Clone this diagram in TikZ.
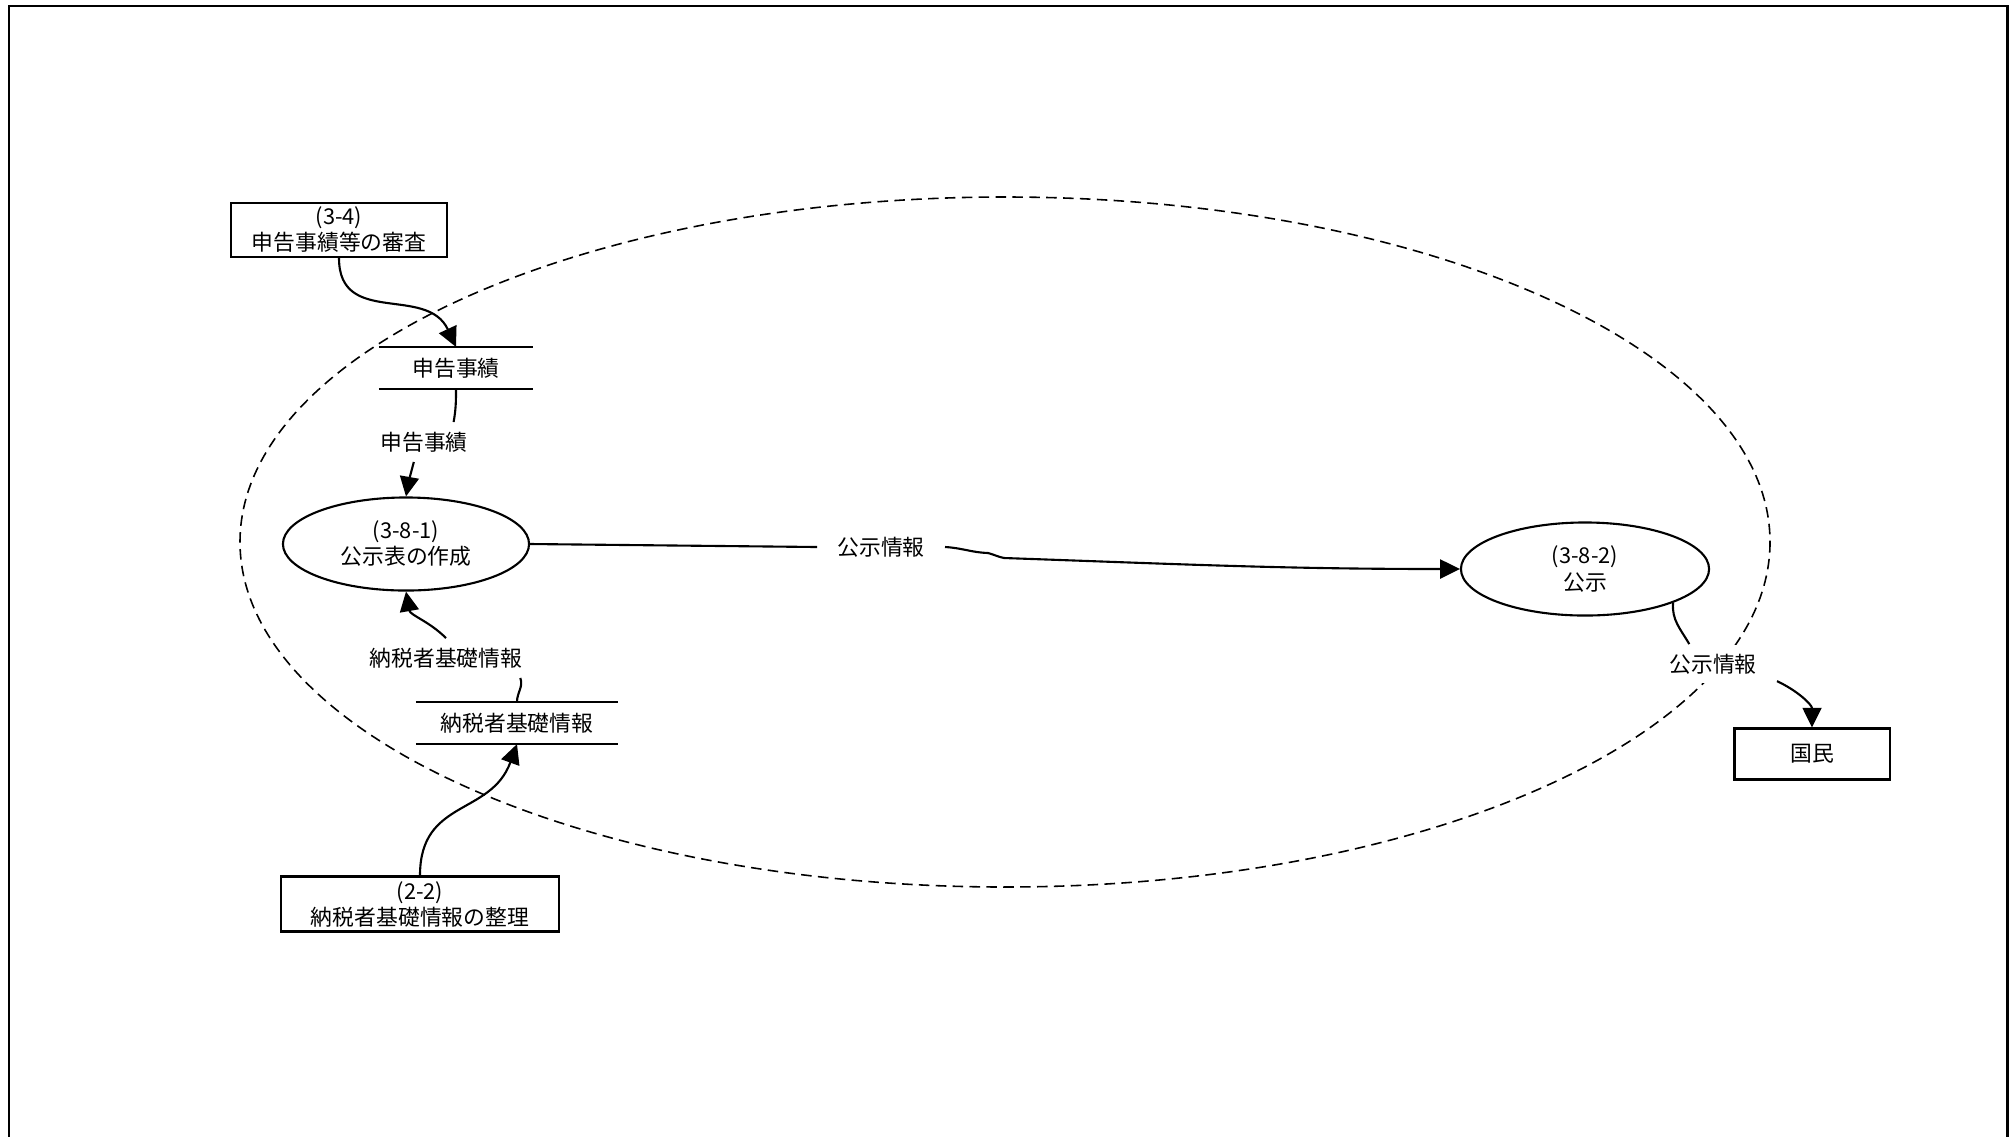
\documentclass[tikz,border=0pt]{standalone}
\usepackage{fontspec}
\setmainfont{Noto Sans CJK JP}
\usetikzlibrary{shapes.geometric,arrows.meta}

\begin{document}
\begin{tikzpicture}[x=0.01cm, y=-0.01cm, line width=0.6pt,
  every node/.style={font=\fontsize{6.2pt}{7.4pt}\selectfont, align=center},
  proc/.style={draw, ellipse, minimum width=2.46cm, minimum height=0.93cm, inner sep=0pt},
  ext/.style={draw, rectangle, inner sep=0pt},
  store/.style={minimum width=1.52cm, minimum height=0.40cm, inner sep=0pt},
  flowlabel/.style={fill=white, inner xsep=5.5pt, inner ysep=2.5pt},
  flow/.style={-{Triangle[length=5.6pt,width=5.4pt]}}]
% 公示 (3-8) のデータフロー
\clip (0,0) rectangle (2013,1136);
\draw[line width=0.85pt] (9,6) rectangle (2007,1200);
\draw[line width=0.45pt, dash pattern=on 3pt off 1.8pt] (1005,542) ellipse [x radius=765, y radius=345];

\node[ext, minimum width=2.16cm, minimum height=0.54cm] (b34) at (339,230) {(3-4)\\申告事績等の審査};
\node[store] (s1) at (456,368) {申告事績};
\draw (s1.north west) -- (s1.north east) (s1.south west) -- (s1.south east);
\node[flowlabel] (l1) at (424,442) {申告事績};
\node[proc] (e1) at (406,544) {(3-8-1)\\公示表の作成};
\node[flowlabel] (m1) at (881,547) {公示情報};
\node[proc, minimum width=2.48cm] (e2) at (1585,569) {(3-8-2)\\公示};
\node[flowlabel] (r1) at (1713,664) {公示情報};
\node[ext, minimum width=1.55cm, minimum height=0.51cm] (kok) at (1812,754) {国民};
\node[store, minimum width=2cm] (s2) at (517,723) {納税者基礎情報};
\draw (s2.north west) -- (s2.north east) (s2.south west) -- (s2.south east);
\node[flowlabel] (l2) at (446,658) {納税者基礎情報};
\node[ext, minimum width=2.77cm, minimum height=0.55cm] (b22) at (420,904) {(2-2)\\納税者基礎情報の整理};

\draw[flow] (b34.south) to[out=-90,in=115,looseness=1.2] (s1.north);
\draw (s1.south) to[out=-90,in=80] (l1.34);
\draw[flow] (l1.-117) to[out=-105,in=80] (e1.north);
\draw (e1.east) -- (m1.west);
\coordinate (k1) at (988,553);
\coordinate (k2) at (1004,558);
\draw[flow] (m1.east) to[out=-3,in=178] (k1) to[out=-15,in=168] (k2) to[out=-2,in=180] (e2.west);
\draw (e2.-21) to[out=-95,in=120] (r1.140);
\draw[flow] (r1.-15) to[out=-25,in=90] (kok.north);
\draw (s2.north) to[out=90,in=-70] (l2.-15);
\draw[flow] (l2.north) to[out=135,in=-80] (e1.south);
\draw[flow] (b22.north) to[out=90,in=-110,looseness=1.2] (s2.south);
\end{tikzpicture}
\end{document}
